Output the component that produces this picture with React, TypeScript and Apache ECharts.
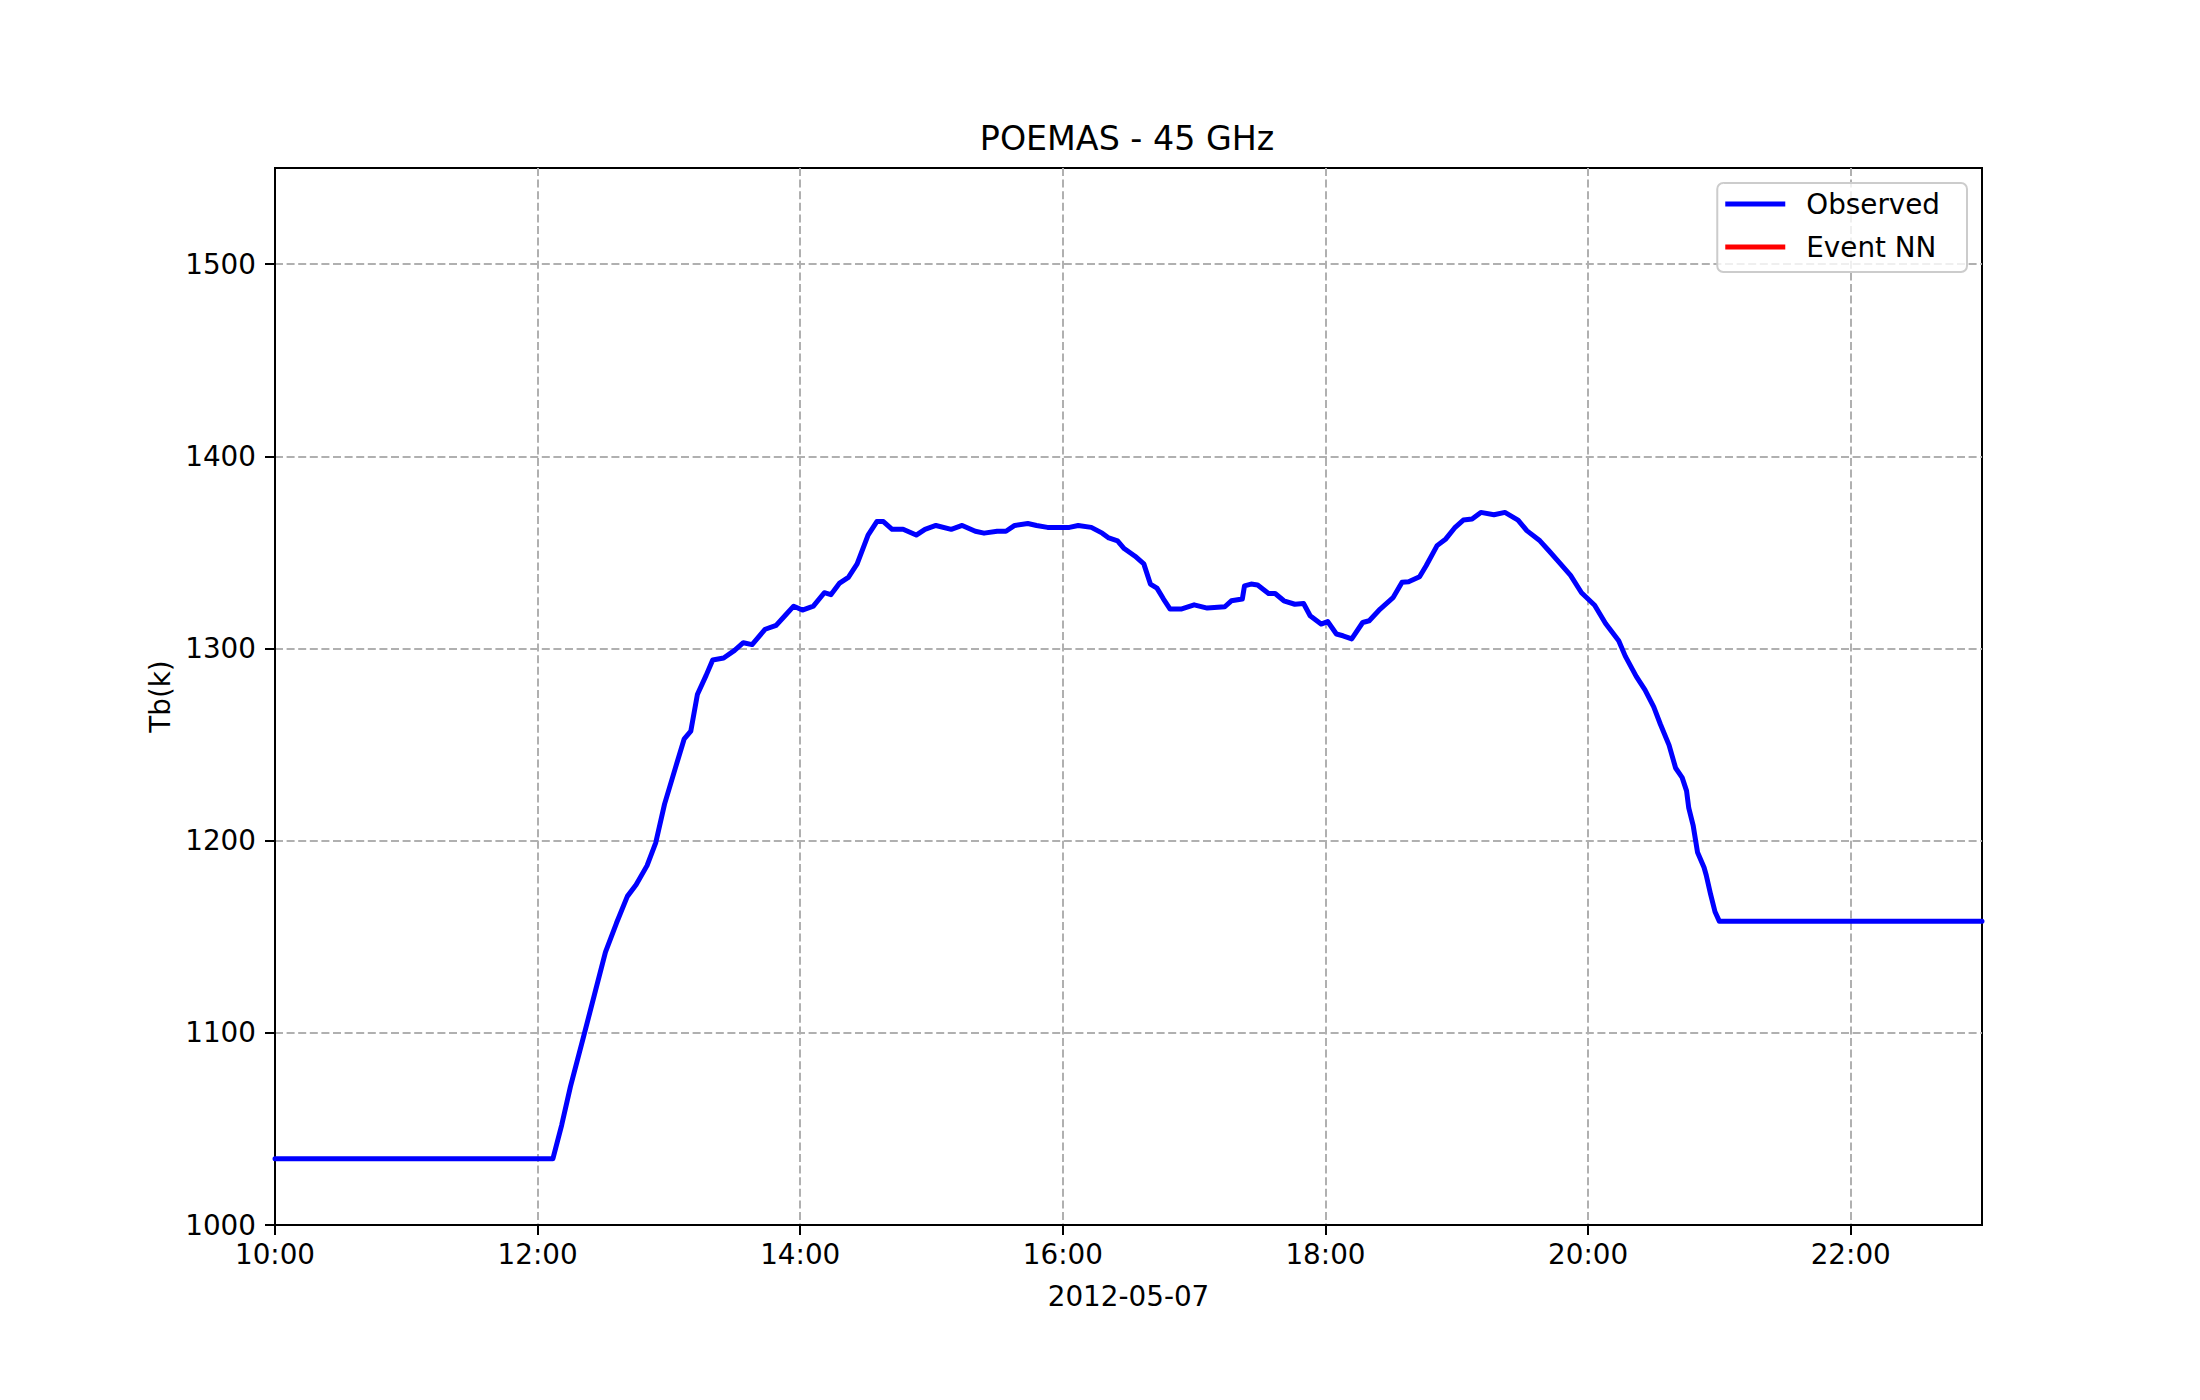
import React, { useEffect, useRef } from "react";
import * as echarts from "echarts";

// Observation times (HH:MM, 2012-05-07) and brightness temperature Tb(k)
const times: string[] = [
  "10:00", "12:07", "12:11", "12:15", "12:21", "12:26", "12:31", "12:36", "12:41", "12:45",
  "12:50", "12:54", "12:58", "13:03", "13:07", "13:10", "13:13", "13:17", "13:20", "13:25",
  "13:30", "13:34", "13:38", "13:44", "13:49", "13:53", "13:57", "14:01", "14:06", "14:11",
  "14:14", "14:18", "14:22", "14:26", "14:31", "14:35", "14:38", "14:42", "14:47", "14:53",
  "14:57", "15:02", "15:09", "15:14", "15:20", "15:24", "15:30", "15:34", "15:38", "15:44",
  "15:48", "15:53", "15:58", "16:03", "16:07", "16:13", "16:18", "16:21", "16:25", "16:28",
  "16:33", "16:37", "16:40", "16:43", "16:46", "16:49", "16:54", "17:00", "17:06", "17:14",
  "17:17", "17:22", "17:23", "17:26", "17:29", "17:34", "17:37", "17:41", "17:46", "17:50",
  "17:53", "17:58", "18:01", "18:05", "18:08", "18:12", "18:17", "18:20", "18:25", "18:31",
  "18:35", "18:38", "18:43", "18:46", "18:51", "18:55", "18:59", "19:03", "19:07", "19:11",
  "19:17", "19:22", "19:28", "19:32", "19:38", "19:42", "19:47", "19:52", "19:57", "20:03",
  "20:08", "20:14", "20:17", "20:22", "20:26", "20:30", "20:33", "20:37", "20:40", "20:43",
  "20:45", "20:46", "20:48", "20:50", "20:53", "20:54", "20:56", "20:58", "21:00", "23:00",
];

const observed: number[] = [
  1034.5, 1034.5, 1052, 1072, 1098, 1120, 1142, 1157, 1171, 1177,
  1187, 1199, 1219, 1238, 1253, 1257, 1276, 1286, 1294, 1295,
  1299, 1303, 1302, 1310, 1312, 1317, 1322, 1320, 1322, 1329,
  1328, 1334, 1337, 1344, 1359, 1366, 1366, 1362, 1362, 1359,
  1362, 1364, 1362, 1364, 1361, 1360, 1361, 1361, 1364, 1365,
  1364, 1363, 1363, 1363, 1364, 1363, 1360, 1357.5, 1356, 1352,
  1348, 1344, 1333.5, 1331.4, 1325.7, 1320.5, 1320.5, 1322.7, 1321, 1321.7,
  1324.8, 1325.7, 1332.6, 1333.5, 1333, 1328.6, 1328.6, 1324.8, 1323, 1323.4,
  1317, 1312.7, 1314, 1307.5, 1306.6, 1305, 1313.5, 1314.4, 1320.5, 1326.6,
  1334.4, 1334.7, 1337.3, 1343, 1353.5, 1357, 1362.7, 1366.8, 1367.4, 1370.8,
  1369.6, 1370.8, 1366.8, 1361.3, 1356, 1351, 1344.5, 1338, 1329, 1322.5,
  1313, 1304, 1296, 1285.5, 1278.5, 1269.6, 1260.7, 1249.7, 1237.8, 1232.8,
  1225.9, 1217, 1208, 1194, 1186, 1182, 1172, 1163, 1158, 1158,
];

const eventNN: number[][] = [];

const xTicks: number[] = [10, 12, 14, 16, 18, 20, 22];
const yTicks: number[] = [1000, 1100, 1200, 1300, 1400, 1500];

const FONT = "DejaVu Sans";
const FS = 27.8;

function toHours(t: string): number {
  const [h, m] = t.split(":").map(Number);
  return h + m / 60;
}

function fmtHour(v: number): string {
  const h = Math.round(v);
  return (h < 10 ? "0" : "") + h + ":00";
}

export default function App() {
  const ref = useRef<HTMLDivElement>(null);

  useEffect(() => {
    if (!ref.current) return;
    const chart = echarts.init(ref.current, null, { renderer: "svg" });
    const obsData = times.map((t, i) => [toHours(t), observed[i]]);

    const axisLine = { show: true, onZero: false, lineStyle: { color: "#000", width: 2 } };
    const axisTick = { show: true, inside: false, length: 10, lineStyle: { color: "#000", width: 2 } };
    const splitLine = {
      show: true,
      lineStyle: { color: "#b0b0b0", width: 2, type: [8, 3.6] as any },
    };

    chart.setOption({
      animation: false,
      backgroundColor: "#fff",
      title: {
        text: "POEMAS - 45 GHz",
        left: 1122,
        top: 117,
        textAlign: "center",
        textStyle: { fontFamily: FONT, fontSize: 33.3, fontWeight: "normal", color: "#000" },
      },
      legend: {
        orient: "vertical",
        right: 233,
        top: 183,
        padding: [6, 27, 10, 8],
        itemGap: 13,
        itemWidth: 60,
        itemHeight: 5,
        icon: "rect",
        backgroundColor: "rgba(255,255,255,0.8)",
        borderColor: "#cccccc",
        borderWidth: 2,
        borderRadius: 6,
        textStyle: {
          fontFamily: FONT,
          fontSize: FS,
          color: "#000",
          lineHeight: 30,
          padding: [0, 0, 0, 16],
        },
        data: ["Observed", "Event NN"],
      },
      grid: {
        left: 275,
        right: 218,
        top: 168,
        bottom: 175,
        show: true,
        borderColor: "#000",
        borderWidth: 2,
        containLabel: false,
      },
      xAxis: {
        type: "value",
        min: 10,
        max: 23,
        interval: 2,
        name: "2012-05-07",
        nameLocation: "middle",
        nameGap: 57,
        nameTextStyle: { fontFamily: FONT, fontSize: FS, color: "#000" },
        axisLine,
        axisTick: { ...axisTick, customValues: xTicks },
        axisLabel: {
          customValues: xTicks,
          margin: 15,
          fontFamily: FONT,
          fontSize: FS,
          color: "#000",
          formatter: (v: number) => fmtHour(v),
        },
        splitLine,
      },
      yAxis: {
        type: "value",
        min: 1000,
        max: 1550,
        interval: 100,
        name: "Tb(k)",
        nameLocation: "middle",
        nameGap: 100,
        nameTextStyle: { fontFamily: FONT, fontSize: FS, color: "#000" },
        axisLine,
        axisTick: { ...axisTick, customValues: yTicks },
        axisLabel: {
          customValues: yTicks,
          margin: 19,
          fontFamily: FONT,
          fontSize: FS,
          color: "#000",
          formatter: (v: number) => String(Math.round(v)),
        },
        splitLine,
      },
      series: [
        {
          name: "Observed",
          type: "line",
          data: obsData,
          showSymbol: false,
          symbol: "none",
          color: "#0000ff",
          lineStyle: { color: "#0000ff", width: 5, join: "round", cap: "round" },
          z: 3,
        },
        {
          name: "Event NN",
          type: "line",
          data: eventNN,
          showSymbol: false,
          symbol: "none",
          color: "#ff0000",
          lineStyle: { color: "#ff0000", width: 5 },
        },
      ],
    });

    return () => chart.dispose();
  }, []);

  return (
    <div
      ref={ref}
      style={{ position: "absolute", left: 0, top: 0, width: 2200, height: 1400 }}
    />
  );
}
